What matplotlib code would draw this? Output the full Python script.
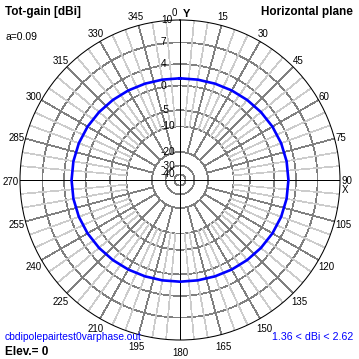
import numpy as np
import matplotlib
matplotlib.use('Agg')
import matplotlib.pyplot as plt

plt.rcParams['font.family'] = ['Liberation Sans', 'DejaVu Sans']

# log-style radial scale: dB of each ring and its radius (fraction of outer ring)
ring_db = [10, 7, 4, 0, -5, -10, -20, -30, -40]
ring_r = [1.0, 0.86, 0.724, 0.59, 0.436, 0.335, 0.175, 0.09, 0.035]

# horizontal-plane total gain, every 10 degrees
angles_deg = [0, 10, 20, 30, 40, 50, 60, 70, 80, 90, 100, 110,
              120, 130, 140, 150, 160, 170, 180, 190, 200, 210, 220, 230,
              240, 250, 260, 270, 280, 290, 300, 310, 320, 330, 340, 350]
gain_dbi = [1.36, 1.40, 1.51, 1.68, 1.88, 2.10, 2.30, 2.47, 2.58, 2.62, 2.58, 2.47,
            2.30, 2.10, 1.88, 1.68, 1.51, 1.40, 1.36, 1.40, 1.51, 1.68, 1.88, 2.10,
            2.30, 2.47, 2.58, 2.62, 2.58, 2.47, 2.30, 2.10, 1.88, 1.68, 1.51, 1.40]

angle_labels = ['0', '15', '30', '45', '60', '75', '90', '105', '120', '135', '150', '165',
                '180', '195', '210', '225', '240', '255', '270', '285', '300', '315', '330', '345']

W = 359


def db_to_r(db):
    return np.interp(db, ring_db[::-1], ring_r[::-1])


def px(y):
    return 1 - y / W


fig = plt.figure(figsize=(W / 100, W / 100), dpi=100)
ax = fig.add_axes([20 / W, 19 / W, 320 / W, 320 / W], projection='polar')
ax.set_theta_zero_location('N')
ax.set_theta_direction(-1)
ax.set_ylim(0, 1)
ax.set_xticks([])
ax.set_yticks([])
ax.grid(False)
ax.spines['polar'].set_color('black')
ax.spines['polar'].set_linewidth(0.75)

dark = '#808080'
light = '#cccccc'
full = np.linspace(0, 2 * np.pi, 721)
thin = 0.5

for db in ring_db[1:]:
    ax.plot(full, np.full_like(full, db_to_r(db)), color=dark, lw=thin, antialiased=False)

for a in range(0, 360, 5):
    if a % 90 == 0:
        continue
    th = np.radians(a)
    if a % 15 == 0:
        ax.plot([th, th], [db_to_r(-20), 1], color=dark, lw=thin, antialiased=False, zorder=2.1)
    else:
        ax.plot([th, th], [db_to_r(-10), 1], color=light, lw=thin, antialiased=False, zorder=2)

# X / Y axes
ax.plot([0, 0, np.pi, np.pi], [1, 0, 0, 1], color='black', lw=thin, antialiased=False, zorder=2.2)
ax.plot([np.pi / 2, np.pi / 2, 1.5 * np.pi, 1.5 * np.pi], [1, 0, 0, 1],
        color='black', lw=thin, antialiased=False, zorder=2.2)

th = np.radians(angles_deg + [angles_deg[0]])
r = db_to_r(np.array(gain_dbi + [gain_dbi[0]]))
ax.plot(th, r, color='#0000ff', lw=1.9, zorder=3)

# ring labels
for db in ring_db:
    ax.annotate(str(db), xy=(0, db_to_r(db)), xytext=(-19, 0), textcoords='offset pixels',
                ha='left', va='center', fontsize=7.3, annotation_clip=False, zorder=4)

# angle labels
for lbl in angle_labels:
    a = np.radians(int(lbl))
    if lbl == '0':
        dx, dy = -5.5, 6.5
    else:
        dx = np.sin(a) * (2.6 * len(lbl) + 1.5)
        dy = 10 * np.cos(a) - 1.5
        if np.cos(a) < -0.9:
            dy -= 1
    ax.annotate(lbl, xy=(a, 1.0), xytext=(dx, dy), textcoords='offset pixels',
                ha='center', va='center', fontsize=7, annotation_clip=False)

fig.text(183 / W, px(17), 'Y', fontsize=8, fontweight='bold', va='baseline')
fig.text(342 / W, px(193), 'X', fontsize=7, va='baseline')

fig.text(5 / W, px(15), 'Tot-gain [dBi]', fontsize=8.5, fontweight='bold', va='baseline')
fig.text(353 / W, px(15), 'Horizontal plane', fontsize=8.5, fontweight='bold',
         ha='right', va='baseline')
fig.text(5 / W, px(39.5), 'a=0.09', fontsize=7.5, va='baseline')
fig.text(5 / W, px(340.5), 'cbdipolepairtest0varphase.out', fontsize=7.4, color='#0000ff',
         va='baseline')
fig.text(353 / W, px(340.5), '1.36 < dBi < 2.62', fontsize=7.7, color='#0000ff',
         ha='right', va='baseline')
fig.text(5 / W, px(355), 'Elev.= 0', fontsize=8.5, fontweight='bold', va='baseline')

fig.savefig('out.png', dpi=100, facecolor='white')
